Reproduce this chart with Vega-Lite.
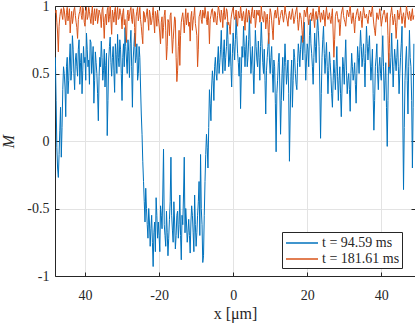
{
"$schema": "https://vega.github.io/schema/vega-lite/v6.json",
"width": 360, "height": 270,
"autosize": {"type": "none"},
"padding": {"left": 55, "top": 6, "right": 0, "bottom": 47},
"background": "white",
"config": {
 "view": {"stroke": null},
 "font": "Liberation Serif, Times New Roman, serif",
 "axis": {"domainColor": "#262626", "domainWidth": 1, "tickColor": "#262626", "tickSize": -4, "labelColor": "#262626", "titleColor": "#262626", "gridColor": "#e3e3e3", "labelFont": "Liberation Serif, Times New Roman, serif", "labelFontSize": 14, "titleFont": "Liberation Serif, Times New Roman, serif", "titleFontSize": 16, "titleFontWeight": "normal"}
},
"data": {"values": [
{"x":-48,"b":0.62,"o":0.95},{"x":-47.6,"b":-0.05,"o":0.88},{"x":-47.2,"b":-0.27,"o":0.66},{"x":-46.8,"b":0.08,"o":0.92},{"x":-46.4,"b":-0.12,"o":0.98},{"x":-46,"b":0.38,"o":0.9},{"x":-45.6,"b":0.5,"o":0.97},{"x":-45.2,"b":0.18,"o":0.86},{"x":-44.8,"b":0.62,"o":0.99},{"x":-44.4,"b":0.45,"o":0.93},
{"x":-44,"b":0.72,"o":0.8},{"x":-43.6,"b":0.52,"o":0.96},{"x":-43.2,"b":0.68,"o":0.91},{"x":-42.8,"b":0.38,"o":0.99},{"x":-42.4,"b":0.65,"o":0.88},{"x":-42,"b":0.48,"o":0.76},{"x":-41.6,"b":0.75,"o":0.94},{"x":-41.2,"b":0.58,"o":1.0},{"x":-40.8,"b":0.35,"o":0.9},{"x":-40.4,"b":0.7,"o":0.97},
{"x":-40,"b":0.62,"o":0.85},{"x":-39.6,"b":0.8,"o":0.99},{"x":-39.2,"b":0.55,"o":0.92},{"x":-38.8,"b":0.42,"o":0.96},{"x":-38.4,"b":0.73,"o":0.87},{"x":-38,"b":0.6,"o":1.0},{"x":-37.6,"b":0.28,"o":0.93},{"x":-37.2,"b":0.66,"o":0.89},{"x":-36.8,"b":0.5,"o":0.98},{"x":-36.4,"b":0.15,"o":0.91},
{"x":-36,"b":0.62,"o":0.95},{"x":-35.6,"b":0.74,"o":0.84},{"x":-35.2,"b":0.45,"o":0.99},{"x":-34.8,"b":0.68,"o":0.76},{"x":-34.4,"b":0.56,"o":0.94},{"x":-34,"b":0.04,"o":0.97},{"x":-33.6,"b":0.6,"o":0.88},{"x":-33.2,"b":0.77,"o":1.0},{"x":-32.8,"b":0.48,"o":0.79},{"x":-32.4,"b":0.7,"o":0.93},
{"x":-32,"b":0.36,"o":0.96},{"x":-31.6,"b":0.64,"o":0.86},{"x":-31.2,"b":0.79,"o":0.99},{"x":-30.8,"b":0.55,"o":0.91},{"x":-30.4,"b":0.68,"o":0.95},{"x":-30,"b":0.3,"o":0.83},{"x":-29.6,"b":0.72,"o":0.98},{"x":-29.2,"b":0.84,"o":0.9},{"x":-28.8,"b":0.6,"o":0.73},{"x":-28.4,"b":0.75,"o":0.97},
{"x":-28,"b":0.47,"o":0.92},{"x":-27.6,"b":0.82,"o":0.99},{"x":-27.2,"b":0.25,"o":0.87},{"x":-26.8,"b":0.7,"o":0.94},{"x":-26.4,"b":0.58,"o":0.7},{"x":-26,"b":0.72,"o":0.96},{"x":-25.6,"b":0.5,"o":0.89},{"x":-25.2,"b":0.62,"o":0.99},{"x":-24.8,"b":0.2,"o":0.85},{"x":-24.4,"b":-0.15,"o":0.72},
{"x":-24,"b":-0.45,"o":0.95},{"x":-23.6,"b":-0.35,"o":0.91},{"x":-23.2,"b":-0.62,"o":0.98},{"x":-22.8,"b":-0.5,"o":0.82},{"x":-22.4,"b":-0.78,"o":0.94},{"x":-22,"b":-0.55,"o":0.88},{"x":-21.6,"b":-0.93,"o":0.99},{"x":-21.2,"b":-0.6,"o":0.8},{"x":-20.8,"b":-0.42,"o":0.93},{"x":-20.4,"b":-0.72,"o":0.97},
{"x":-20,"b":-0.7,"o":0.86},{"x":-19.6,"b":-0.48,"o":0.72},{"x":-19.2,"b":-0.65,"o":0.92},{"x":-18.8,"b":-0.06,"o":0.84},{"x":-18.4,"b":-0.7,"o":0.97},{"x":-18,"b":-0.52,"o":0.6},{"x":-17.6,"b":-0.85,"o":0.9},{"x":-17.2,"b":-0.58,"o":0.78},{"x":-16.8,"b":-0.12,"o":0.95},{"x":-16.4,"b":-0.66,"o":0.65},
{"x":-16,"b":-0.45,"o":0.83},{"x":-15.6,"b":-0.8,"o":0.9},{"x":-15.2,"b":-0.55,"o":0.44},{"x":-14.8,"b":-0.72,"o":0.7},{"x":-14.4,"b":-0.4,"o":0.56},{"x":-14,"b":-0.88,"o":0.88},{"x":-13.6,"b":-0.62,"o":0.95},{"x":-13.2,"b":-0.12,"o":0.8},{"x":-12.8,"b":-0.5,"o":0.98},{"x":-12.4,"b":-0.75,"o":0.91},
{"x":-12,"b":-0.58,"o":0.85},{"x":-11.6,"b":-0.83,"o":0.74},{"x":-11.2,"b":-0.48,"o":0.96},{"x":-10.8,"b":-0.68,"o":0.89},{"x":-10.4,"b":-0.4,"o":0.99},{"x":-10,"b":-0.78,"o":0.83},{"x":-9.6,"b":-0.55,"o":0.55},{"x":-9.2,"b":-0.3,"o":0.92},{"x":-8.8,"b":-0.1,"o":0.97},{"x":-8.4,"b":-0.62,"o":0.87},
{"x":-8,"b":-0.85,"o":0.94},{"x":-7.6,"b":-0.3,"o":0.99},{"x":-7.2,"b":0.05,"o":0.9},{"x":-6.8,"b":-0.2,"o":0.96},{"x":-6.4,"b":0.38,"o":0.72},{"x":-6,"b":0.15,"o":0.93},{"x":-5.6,"b":0.52,"o":0.98},{"x":-5.2,"b":0.3,"o":0.88},{"x":-4.8,"b":0.62,"o":0.95},{"x":-4.4,"b":0.45,"o":0.86},
{"x":-4,"b":0.7,"o":1.0},{"x":-3.6,"b":0.58,"o":0.91},{"x":-3.2,"b":0.82,"o":0.97},{"x":-2.8,"b":0.5,"o":0.84},{"x":-2.4,"b":0.75,"o":0.99},{"x":-2,"b":0.62,"o":0.92},{"x":-1.6,"b":0.88,"o":0.96},{"x":-1.2,"b":0.55,"o":0.88},{"x":-0.8,"b":0.72,"o":0.79},{"x":-0.4,"b":0.4,"o":0.94},
{"x":0,"b":0.8,"o":0.99},{"x":0.4,"b":0.6,"o":0.9},{"x":0.8,"b":0.92,"o":0.97},{"x":1.2,"b":0.65,"o":0.85},{"x":1.6,"b":0.48,"o":0.93},{"x":2,"b":0.24,"o":1.0},{"x":2.4,"b":0.7,"o":0.89},{"x":2.8,"b":0.85,"o":0.96},{"x":3.2,"b":0.55,"o":0.82},{"x":3.6,"b":0.78,"o":0.98},
{"x":4,"b":0.62,"o":0.92},{"x":4.4,"b":0.93,"o":0.95},{"x":4.8,"b":0.5,"o":0.87},{"x":5.2,"b":0.7,"o":0.99},{"x":5.6,"b":0.35,"o":0.91},{"x":6,"b":0.82,"o":0.84},{"x":6.4,"b":0.6,"o":0.97},{"x":6.8,"b":0.74,"o":0.93},{"x":7.2,"b":0.45,"o":0.88},{"x":7.6,"b":0.88,"o":1.0},
{"x":8,"b":0.58,"o":0.9},{"x":8.4,"b":0.68,"o":0.96},{"x":8.8,"b":0.2,"o":0.83},{"x":9.2,"b":0.62,"o":0.94},{"x":9.6,"b":0.8,"o":0.72},{"x":10,"b":0.5,"o":0.98},{"x":10.4,"b":0.7,"o":0.89},{"x":10.8,"b":0.36,"o":0.75},{"x":11.2,"b":0.55,"o":0.95},{"x":11.6,"b":-0.08,"o":0.91},
{"x":12,"b":0.45,"o":0.99},{"x":12.4,"b":0.65,"o":0.86},{"x":12.8,"b":0.05,"o":0.93},{"x":13.2,"b":0.5,"o":0.97},{"x":13.6,"b":0.3,"o":0.88},{"x":14,"b":0.72,"o":1.0},{"x":14.4,"b":0.42,"o":0.92},{"x":14.8,"b":0.6,"o":0.85},{"x":15.2,"b":-0.15,"o":0.96},{"x":15.6,"b":0.48,"o":0.9},
{"x":16,"b":0.25,"o":0.98},{"x":16.4,"b":0.68,"o":0.87},{"x":16.8,"b":0.5,"o":0.94},{"x":17.2,"b":0.38,"o":0.99},{"x":17.6,"b":0.72,"o":0.82},{"x":18,"b":0.55,"o":0.95},{"x":18.4,"b":0.78,"o":0.9},{"x":18.8,"b":0.6,"o":0.73},{"x":19.2,"b":0.88,"o":0.97},{"x":19.6,"b":0.45,"o":0.92},
{"x":20,"b":0.72,"o":0.99},{"x":20.4,"b":0.55,"o":0.86},{"x":20.8,"b":0.9,"o":0.94},{"x":21.2,"b":0.65,"o":0.89},{"x":21.6,"b":0.42,"o":0.98},{"x":22,"b":0.8,"o":0.84},{"x":22.4,"b":0.58,"o":0.96},{"x":22.8,"b":0.92,"o":0.91},{"x":23.2,"b":0.7,"o":1.0},{"x":23.6,"b":0.02,"o":0.88},
{"x":24,"b":0.62,"o":0.93},{"x":24.4,"b":0.85,"o":0.97},{"x":24.8,"b":0.5,"o":0.85},{"x":25.2,"b":0.73,"o":0.99},{"x":25.6,"b":0.35,"o":0.9},{"x":26,"b":0.66,"o":0.95},{"x":26.4,"b":0.48,"o":0.87},{"x":26.8,"b":0.25,"o":0.98},{"x":27.2,"b":0.6,"o":0.62},{"x":27.6,"b":0.38,"o":0.92},
{"x":28,"b":0.7,"o":0.96},{"x":28.4,"b":0.3,"o":0.88},{"x":28.8,"b":0.55,"o":0.78},{"x":29.2,"b":0.18,"o":0.94},{"x":29.6,"b":0.62,"o":0.99},{"x":30,"b":0.42,"o":0.9},{"x":30.4,"b":0.75,"o":0.85},{"x":30.8,"b":0.35,"o":0.97},{"x":31.2,"b":0.5,"o":0.92},{"x":31.6,"b":0.22,"o":1.0},
{"x":32,"b":0.65,"o":0.87},{"x":32.4,"b":0.45,"o":0.95},{"x":32.8,"b":0.58,"o":0.8},{"x":33.2,"b":0.28,"o":0.93},{"x":33.6,"b":0.7,"o":0.98},{"x":34,"b":0.5,"o":0.89},{"x":34.4,"b":0.82,"o":0.96},{"x":34.8,"b":0.55,"o":0.84},{"x":35.2,"b":0.72,"o":0.99},{"x":35.6,"b":0.4,"o":0.91},
{"x":36,"b":0.85,"o":0.94},{"x":36.4,"b":0.6,"o":0.87},{"x":36.8,"b":0.78,"o":0.97},{"x":37.2,"b":0.45,"o":0.92},{"x":37.6,"b":0.68,"o":1.0},{"x":38,"b":0.08,"o":0.86},{"x":38.4,"b":0.55,"o":0.78},{"x":38.8,"b":0.72,"o":0.95},{"x":39.2,"b":0.38,"o":0.9},{"x":39.6,"b":0.62,"o":0.98},
{"x":40,"b":0.45,"o":0.85},{"x":40.4,"b":0.78,"o":0.93},{"x":40.8,"b":0.3,"o":0.97},{"x":41.2,"b":0.58,"o":0.88},{"x":41.6,"b":-0.04,"o":0.95},{"x":42,"b":0.65,"o":0.55},{"x":42.4,"b":0.5,"o":0.91},{"x":42.8,"b":0.8,"o":0.99},{"x":43.2,"b":0.4,"o":0.86},{"x":43.6,"b":0.68,"o":0.94},
{"x":44,"b":0.52,"o":0.76},{"x":44.4,"b":0.75,"o":0.97},{"x":44.8,"b":0.35,"o":0.9},{"x":45.2,"b":0.62,"o":0.99},{"x":45.6,"b":0.85,"o":0.87},{"x":46,"b":-0.36,"o":0.95},{"x":46.4,"b":0.45,"o":0.84},{"x":46.8,"b":0.7,"o":1.0},{"x":47.2,"b":0.2,"o":0.92},{"x":47.6,"b":0.82,"o":0.96},
{"x":48,"b":0.55,"o":0.89},{"x":48.4,"b":-0.2,"o":0.98},{"x":48.8,"b":0.72,"o":0.93},
{"x":-47.8,"b":0.3,"o":0.97},{"x":-47.4,"b":-0.2,"o":0.8},{"x":-47,"b":-0.1,"o":0.85},{"x":-46.6,"b":0.25,"o":0.96},{"x":-46.2,"b":0.1,"o":0.93},{"x":-45.8,"b":0.55,"o":0.99},{"x":-45.4,"b":0.4,"o":0.91},{"x":-45,"b":0.55,"o":0.95},{"x":-44.6,"b":0.35,"o":0.89},{"x":-44.2,"b":0.6,"o":0.98},
{"x":-43.8,"b":0.45,"o":0.9},{"x":-43.4,"b":0.78,"o":0.87},{"x":-43,"b":0.5,"o":0.97},{"x":-42.6,"b":0.6,"o":0.93},{"x":-42.2,"b":0.55,"o":0.84},{"x":-41.8,"b":0.68,"o":0.9},{"x":-41.4,"b":0.42,"o":0.96},{"x":-41,"b":0.65,"o":0.93},{"x":-40.6,"b":0.52,"o":0.99},{"x":-40.2,"b":0.58,"o":0.88},
{"x":-39.8,"b":0.45,"o":0.94},{"x":-39.4,"b":0.68,"o":0.9},{"x":-39,"b":0.6,"o":0.99},{"x":-38.6,"b":0.75,"o":0.91},{"x":-38.2,"b":0.5,"o":0.95},{"x":-37.8,"b":0.7,"o":0.86},{"x":-37.4,"b":0.45,"o":0.98},{"x":-37,"b":0.58,"o":0.94},{"x":-36.6,"b":0.35,"o":0.87},{"x":-36.2,"b":0.48,"o":0.97},
{"x":-35.8,"b":0.55,"o":0.92},{"x":-35.4,"b":0.62,"o":0.97},{"x":-35,"b":0.52,"o":0.88},{"x":-34.6,"b":0.4,"o":0.91},{"x":-34.2,"b":0.65,"o":0.86},{"x":-33.8,"b":0.3,"o":0.99},{"x":-33.4,"b":0.7,"o":0.92},{"x":-33,"b":0.58,"o":0.9},{"x":-32.6,"b":0.62,"o":0.97},{"x":-32.2,"b":0.52,"o":0.88},
{"x":-31.8,"b":0.72,"o":0.99},{"x":-31.4,"b":0.5,"o":0.94},{"x":-31,"b":0.62,"o":0.9},{"x":-30.6,"b":0.75,"o":0.98},{"x":-30.2,"b":0.5,"o":0.92},{"x":-29.8,"b":0.62,"o":0.95},{"x":-29.4,"b":0.55,"o":0.86},{"x":-29,"b":0.7,"o":0.82},{"x":-28.6,"b":0.5,"o":0.93},{"x":-28.2,"b":0.66,"o":0.89},
{"x":-27.8,"b":0.72,"o":0.97},{"x":-27.4,"b":0.55,"o":0.9},{"x":-27,"b":0.6,"o":0.98},{"x":-26.6,"b":0.8,"o":0.84},{"x":-26.2,"b":0.62,"o":0.92},{"x":-25.8,"b":0.45,"o":0.99},{"x":-25.4,"b":0.7,"o":0.93},{"x":-25,"b":0.4,"o":0.9},{"x":-24.6,"b":0.05,"o":0.78},{"x":-24.2,"b":-0.3,"o":0.96},
{"x":-23.8,"b":-0.6,"o":0.88},{"x":-23.4,"b":-0.5,"o":0.94},{"x":-23,"b":-0.72,"o":0.9},{"x":-22.6,"b":-0.6,"o":0.97},{"x":-22.2,"b":-0.65,"o":0.86},{"x":-21.8,"b":-0.75,"o":0.93},{"x":-21.4,"b":-0.68,"o":0.89},{"x":-21,"b":-0.82,"o":0.96},{"x":-20.6,"b":-0.55,"o":0.85},{"x":-20.2,"b":-0.6,"o":0.91},
{"x":-19.8,"b":-0.82,"o":0.8},{"x":-19.4,"b":-0.55,"o":0.88},{"x":-19,"b":-0.4,"o":0.76},{"x":-18.6,"b":-0.62,"o":0.93},{"x":-18.2,"b":-0.78,"o":0.82},{"x":-17.8,"b":-0.68,"o":0.7},{"x":-17.4,"b":-0.72,"o":0.88},{"x":-17,"b":-0.45,"o":0.93},{"x":-16.6,"b":-0.55,"o":0.8},{"x":-16.2,"b":-0.75,"o":0.75},
{"x":-15.8,"b":-0.6,"o":0.92},{"x":-15.4,"b":-0.7,"o":0.62},{"x":-15,"b":-0.52,"o":0.52},{"x":-14.6,"b":-0.62,"o":0.82},{"x":-14.2,"b":-0.7,"o":0.78},{"x":-13.8,"b":-0.55,"o":0.92},{"x":-13.4,"b":-0.4,"o":0.88},{"x":-13,"b":-0.68,"o":0.9},{"x":-12.6,"b":-0.6,"o":0.86},{"x":-12.2,"b":-0.68,"o":0.95},
{"x":-11.8,"b":-0.7,"o":0.88},{"x":-11.4,"b":-0.6,"o":0.92},{"x":-11,"b":-0.55,"o":0.82},{"x":-10.6,"b":-0.82,"o":0.93},{"x":-10.2,"b":-0.62,"o":0.87},{"x":-9.8,"b":-0.68,"o":0.78},{"x":-9.4,"b":-0.45,"o":0.68},{"x":-9,"b":-0.7,"o":0.94},{"x":-8.6,"b":-0.5,"o":0.9},{"x":-8.2,"b":-0.9,"o":0.97},
{"x":-7.8,"b":-0.55,"o":0.91},{"x":-7.4,"b":-0.1,"o":0.94},{"x":-7,"b":-0.05,"o":0.86},{"x":-6.6,"b":0.1,"o":0.89},{"x":-6.2,"b":0.28,"o":0.9},{"x":-5.8,"b":0.4,"o":0.97},{"x":-5.4,"b":0.45,"o":0.92},{"x":-5,"b":0.55,"o":0.96},{"x":-4.6,"b":0.5,"o":0.88},{"x":-4.2,"b":0.6,"o":0.93},
{"x":-3.8,"b":0.5,"o":0.97},{"x":-3.4,"b":0.68,"o":0.88},{"x":-3,"b":0.62,"o":0.93},{"x":-2.6,"b":0.66,"o":0.95},{"x":-2.2,"b":0.52,"o":0.9},{"x":-1.8,"b":0.7,"o":0.98},{"x":-1.4,"b":0.75,"o":0.86},{"x":-1,"b":0.6,"o":0.85},{"x":-0.6,"b":0.55,"o":0.9},{"x":-0.2,"b":0.65,"o":0.97},
{"x":0.2,"b":0.7,"o":0.93},{"x":0.6,"b":0.75,"o":0.92},{"x":1,"b":0.78,"o":0.88},{"x":1.4,"b":0.58,"o":0.96},{"x":1.8,"b":0.62,"o":0.91},{"x":2.2,"b":0.5,"o":0.95},{"x":2.6,"b":0.62,"o":0.93},{"x":3,"b":0.7,"o":0.9},{"x":3.4,"b":0.68,"o":0.94},{"x":3.8,"b":0.55,"o":0.88},
{"x":4.2,"b":0.75,"o":0.97},{"x":4.6,"b":0.7,"o":0.9},{"x":5,"b":0.6,"o":0.96},{"x":5.4,"b":0.52,"o":0.92},{"x":5.8,"b":0.6,"o":0.97},{"x":6.2,"b":0.7,"o":0.89},{"x":6.6,"b":0.55,"o":0.94},{"x":7,"b":0.62,"o":0.97},{"x":7.4,"b":0.7,"o":0.9},{"x":7.8,"b":0.72,"o":0.93},
{"x":8.2,"b":0.5,"o":0.88},{"x":8.6,"b":0.45,"o":0.95},{"x":9,"b":0.52,"o":0.9},{"x":9.4,"b":0.7,"o":0.86},{"x":9.8,"b":0.6,"o":0.9},{"x":10.2,"b":0.62,"o":0.95},{"x":10.6,"b":0.5,"o":0.82},{"x":11,"b":0.6,"o":0.9},{"x":11.4,"b":0.28,"o":0.97},{"x":11.8,"b":0.35,"o":0.94},
{"x":12.2,"b":0.58,"o":0.92},{"x":12.6,"b":0.4,"o":0.9},{"x":13,"b":0.3,"o":0.96},{"x":13.4,"b":0.62,"o":0.92},{"x":13.8,"b":0.55,"o":0.93},{"x":14.2,"b":0.58,"o":0.95},{"x":14.6,"b":0.5,"o":0.89},{"x":15,"b":0.35,"o":0.93},{"x":15.4,"b":0.2,"o":0.91},{"x":15.8,"b":0.6,"o":0.94},
{"x":16.2,"b":0.45,"o":0.93},{"x":16.6,"b":0.62,"o":0.9},{"x":17,"b":0.42,"o":0.97},{"x":17.4,"b":0.58,"o":0.9},{"x":17.8,"b":0.65,"o":0.88},{"x":18.2,"b":0.68,"o":0.93},{"x":18.6,"b":0.72,"o":0.82},{"x":19,"b":0.75,"o":0.86},{"x":19.4,"b":0.65,"o":0.95},{"x":19.8,"b":0.6,"o":0.97},
{"x":20.2,"b":0.68,"o":0.91},{"x":20.6,"b":0.78,"o":0.93},{"x":21,"b":0.72,"o":0.95},{"x":21.4,"b":0.55,"o":0.92},{"x":21.8,"b":0.62,"o":0.9},{"x":22.2,"b":0.7,"o":0.94},{"x":22.6,"b":0.8,"o":0.9},{"x":23,"b":0.82,"o":0.95},{"x":23.4,"b":0.4,"o":0.93},{"x":23.8,"b":0.35,"o":0.95},
{"x":24.2,"b":0.75,"o":0.9},{"x":24.6,"b":0.65,"o":0.92},{"x":25,"b":0.62,"o":0.94},{"x":25.4,"b":0.55,"o":0.93},{"x":25.8,"b":0.52,"o":0.92},{"x":26.2,"b":0.58,"o":0.9},{"x":26.6,"b":0.35,"o":0.93},{"x":27,"b":0.45,"o":0.8},{"x":27.4,"b":0.5,"o":0.75},{"x":27.8,"b":0.55,"o":0.95},
{"x":28.2,"b":0.48,"o":0.92},{"x":28.6,"b":0.45,"o":0.9},{"x":29,"b":0.35,"o":0.86},{"x":29.4,"b":0.4,"o":0.97},{"x":29.8,"b":0.55,"o":0.93},{"x":30.2,"b":0.6,"o":0.88},{"x":30.6,"b":0.52,"o":0.92},{"x":31,"b":0.45,"o":0.95},{"x":31.4,"b":0.38,"o":0.96},{"x":31.8,"b":0.5,"o":0.93},
{"x":32.2,"b":0.55,"o":0.91},{"x":32.6,"b":0.5,"o":0.88},{"x":33,"b":0.42,"o":0.9},{"x":33.4,"b":0.5,"o":0.96},{"x":33.8,"b":0.62,"o":0.93},{"x":34.2,"b":0.68,"o":0.92},{"x":34.6,"b":0.7,"o":0.9},{"x":35,"b":0.62,"o":0.93},{"x":35.4,"b":0.58,"o":0.95},{"x":35.8,"b":0.65,"o":0.92},
{"x":36.2,"b":0.72,"o":0.9},{"x":36.6,"b":0.7,"o":0.93},{"x":37,"b":0.6,"o":0.95},{"x":37.4,"b":0.55,"o":0.96},{"x":37.8,"b":0.35,"o":0.92},{"x":38.2,"b":0.3,"o":0.82},{"x":38.6,"b":0.62,"o":0.88},{"x":39,"b":0.5,"o":0.92},{"x":39.4,"b":0.55,"o":0.94},{"x":39.8,"b":0.5,"o":0.92},
{"x":40.2,"b":0.62,"o":0.89},{"x":40.6,"b":0.55,"o":0.95},{"x":41,"b":0.45,"o":0.93},{"x":41.4,"b":0.25,"o":0.92},{"x":41.8,"b":0.3,"o":0.78},{"x":42.2,"b":0.55,"o":0.72},{"x":42.6,"b":0.62,"o":0.95},{"x":43,"b":0.6,"o":0.93},{"x":43.4,"b":0.55,"o":0.9},{"x":43.8,"b":0.6,"o":0.88},
{"x":44.2,"b":0.62,"o":0.85},{"x":44.6,"b":0.55,"o":0.93},{"x":45,"b":0.5,"o":0.95},{"x":45.4,"b":0.72,"o":0.93},{"x":45.8,"b":0.2,"o":0.92},{"x":46.2,"b":0.1,"o":0.9},{"x":46.6,"b":0.6,"o":0.93},{"x":47,"b":0.45,"o":0.96},{"x":47.4,"b":0.55,"o":0.9},{"x":47.8,"b":0.62,"o":0.93},
{"x":48.2,"b":0.3,"o":0.94},{"x":48.6,"b":0.25,"o":0.9}
]},
"transform": [{"fold": ["b", "o"], "as": ["key", "value"]}],
"layer": [
 {
  "mark": {"type": "line", "strokeWidth": 1, "clip": true},
  "encoding": {
   "x": {"field": "x", "type": "quantitative", "sort": "ascending", "scale": {"domain": [-48.1, 49.1], "nice": false, "zero": false},
     "axis": {"orient": "bottom", "values": [-40, -20, 0, 20, 40], "labelExpr": "datum.value == -40 ? '40' : toString(datum.value)", "title": "x [μm]", "grid": true, "labelPadding": 16, "titlePadding": 3, "labelFont": "Liberation Serif, Times New Roman, serif"}},
   "y": {"field": "value", "type": "quantitative", "scale": {"domain": [-1, 1], "nice": false},
     "axis": {"orient": "left", "values": [-1, -0.5, 0, 0.5, 1], "labelExpr": "toString(datum.value)", "title": "M", "titleFontStyle": "italic", "grid": true, "labelPadding": 10, "titlePadding": 10, "labelFont": "Liberation Serif, Times New Roman, serif"}},
   "color": {"field": "key", "type": "nominal",
     "scale": {"domain": ["b", "o"], "range": ["#0072BD", "#D95319"]},
     "legend": {"orient": "none", "legendX": 227, "legendY": 226, "title": null, "labelExpr": "datum.value == 'b' ? 't = 94.59 ms' : 't = 181.61 ms'",
       "strokeColor": "#262626", "fillColor": "white", "padding": 2, "symbolType": "M-2,0H2", "symbolSize": 256, "symbolStrokeWidth": 1.5, "symbolOffset": 9, "labelOffset": 11,
       "labelFont": "Liberation Serif, Times New Roman, serif", "labelFontSize": 14, "labelColor": "#262626", "rowPadding": 0}}
  }
 },
 {
  "mark": {"type": "line", "strokeOpacity": 0, "clip": true},
  "encoding": {
   "x": {"field": "x", "type": "quantitative", "axis": {"orient": "top", "values": [-40, -20, 0, 20, 40], "labels": false, "title": null, "grid": false}},
   "y": {"field": "value", "type": "quantitative", "axis": {"orient": "right", "values": [-1, -0.5, 0, 0.5, 1], "labels": false, "title": null, "grid": false}},
   "detail": {"field": "key"}
  }
 }
],
"resolve": {"axis": {"x": "independent", "y": "independent"}}
}
